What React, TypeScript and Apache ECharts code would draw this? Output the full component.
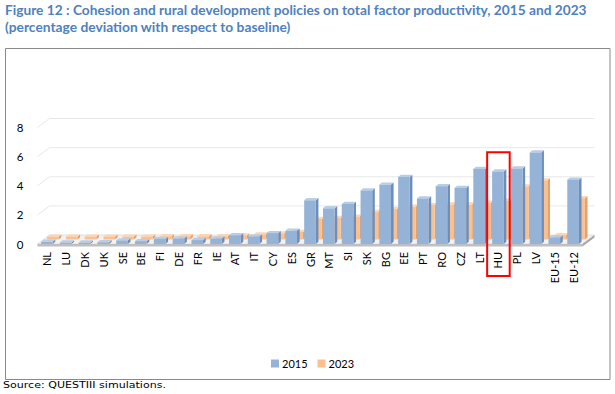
import React, { useEffect, useRef } from "react";
import * as echarts from "echarts";

const categories = ["NL", "LU", "DK", "UK", "SE", "BE", "FI", "DE", "FR", "IE", "AT", "IT", "CY", "ES", "GR", "MT", "SI", "SK", "BG", "EE", "PT", "RO", "CZ", "LT", "HU", "PL", "LV", "EU-15", "EU-12"];
const values2015 = [0.15, 0.1, 0.1, 0.12, 0.25, 0.2, 0.35, 0.38, 0.27, 0.38, 0.6, 0.52, 0.75, 0.92, 3.0, 2.45, 2.75, 3.68, 4.08, 4.6, 3.13, 3.97, 3.85, 5.15, 4.98, 5.18, 6.28, 0.45, 4.42];
const values2023 = [0.2, 0.2, 0.2, 0.2, 0.2, 0.2, 0.22, 0.22, 0.22, 0.22, 0.28, 0.35, 0.42, 0.52, 1.41, 1.48, 1.57, 1.9, 2.09, 2.25, 2.36, 2.4, 2.4, 2.52, 2.66, 3.65, 4.06, 0.3, 2.84];
const yTicks = [0, 2, 4, 6, 8];
const seriesNames = ["2015", "2023"];
const highlightCategory = "HU";
const titleLines = [
  "Figure 12 : Cohesion and rural development policies on total factor productivity, 2015 and 2023",
  "(percentage deviation with respect to baseline)",
];
const sourceText = "Source: QUESTIII simulations.";

const DEPTH_X = 12;
const DEPTH_Y = 9;

function measure(text: string, font: string): number {
  const c = document.createElement("canvas").getContext("2d");
  if (!c) return text.length * 6;
  c.font = font;
  return c.measureText(text).width;
}

function makeBarRender(offX: number, offY: number, front: string, side: string, topC: string) {
  return (params: any, api: any) => {
    const idx = api.value(0);
    const val = api.value(1);
    const top = api.coord([idx, val]);
    const base = api.coord([idx, 0]);
    const band = api.size([1, 0])[0];
    const w = band * 0.62;
    const x0 = top[0] - w / 2 + offX;
    const yT = top[1] + offY;
    const yB = base[1] + offY;
    const dx = 2.6;
    const dy = 2.2;
    return {
      type: "group",
      children: [
        {
          type: "polygon",
          shape: { points: [[x0 + w, yT], [x0 + w + dx, yT - dy], [x0 + w + dx, yB - dy], [x0 + w, yB]] },
          style: { fill: side },
        },
        {
          type: "polygon",
          shape: { points: [[x0, yT], [x0 + dx, yT - dy], [x0 + w + dx, yT - dy], [x0 + w, yT]] },
          style: { fill: topC },
        },
        {
          type: "rect",
          shape: { x: x0, y: yT, width: w, height: Math.max(0, yB - yT) },
          style: { fill: front },
        },
      ],
    };
  };
}

function wallRender(params: any, api: any) {
  const band = api.size([1, 0])[0];
  const first = api.coord([0, 0]);
  const last = api.coord([categories.length - 1, 0]);
  const xl = first[0] - band / 2;
  const xr = last[0] + band / 2;
  const y0 = first[1];
  const children: any[] = [];
  yTicks.forEach((t) => {
    if (t === 0) return;
    const y = api.coord([0, t])[1];
    children.push({
      type: "polyline",
      shape: { points: [[xl, y], [xl + DEPTH_X, y - DEPTH_Y], [xr + DEPTH_X, y - DEPTH_Y]] },
      style: { stroke: "#E8E8E8", lineWidth: 1, fill: null },
    });
  });
  children.push({
    type: "polygon",
    shape: { points: [[xl, y0], [xr, y0], [xr + DEPTH_X, y0 - DEPTH_Y], [xl + DEPTH_X, y0 - DEPTH_Y]] },
    style: { fill: "#F2F2F2", stroke: "#D0D0D0", lineWidth: 0.6 },
  });
  children.push({
    type: "rect",
    shape: { x: xl, y: y0, width: xr - xl, height: 2.5 },
    style: { fill: "#BFBFBF" },
  });
  children.push({
    type: "polygon",
    shape: { points: [[xr, y0], [xr + DEPTH_X, y0 - DEPTH_Y], [xr + DEPTH_X, y0 - DEPTH_Y + 2.5], [xr, y0 + 2.5]] },
    style: { fill: "#A6A6A6" },
  });
  return { type: "group", children };
}

export default function App() {
  const ref = useRef<HTMLDivElement>(null);
  useEffect(() => {
    document.body.style.margin = "0";
    if (!ref.current) return;
    const chart = echarts.init(ref.current, null, { renderer: "svg" });

    const titleFont = "bold 13px Lato";
    const t1w = measure(titleLines[0], titleFont);
    const t2w = measure(titleLines[1], titleFont);
    const srcFont = "9px 'DejaVu Sans'";
    const sw = measure(sourceText, srcFont);

    const option: any = {
      animation: false,
      textStyle: { fontFamily: "Lato" },
      grid: { left: 37.5, right: 32.5, top: 127.5, bottom: 150, containLabel: false },
      legend: {
        data: seriesNames,
        left: 266,
        top: 353,
        icon: "rect",
        itemWidth: 8,
        itemHeight: 8,
        itemGap: 10,
        textStyle: { fontSize: 11, color: "#000", fontFamily: "Lato", padding: [0, 0, 0, -2] },
      },
      xAxis: {
        type: "category",
        data: categories,
        boundaryGap: true,
        axisLine: { show: false },
        axisTick: { show: false },
        axisLabel: { rotate: 90, interval: 0, margin: 8, fontSize: 11, color: "#000", fontFamily: "Lato" },
      },
      yAxis: {
        type: "value",
        min: 0,
        max: 8,
        interval: 2,
        axisLine: { show: false },
        axisTick: { show: false },
        splitLine: { show: false },
        axisLabel: { margin: 14, fontSize: 11.5, color: "#000", fontFamily: "Lato" },
      },
      series: [
        {
          type: "custom",
          name: "wall",
          silent: true,
          z: 1,
          renderItem: wallRender,
          data: [[0, 0]],
          encode: { x: 0, y: 1 },
        },
        {
          type: "custom",
          name: seriesNames[1],
          z: 2,
          itemStyle: { color: "#FAC090" },
          renderItem: makeBarRender(6, -4.5, "#FAC090", "#E3A26C", "#FCD5B4"),
          data: values2023.map((v, i) => [i, v]),
          encode: { x: 0, y: 1 },
        },
        {
          type: "custom",
          name: seriesNames[0],
          z: 3,
          itemStyle: { color: "#95B3D7" },
          renderItem: makeBarRender(0, 0, "#95B3D7", "#6D8EBB", "#B9CDE5"),
          data: values2015.map((v, i) => [i, v]),
          encode: { x: 0, y: 1 },
        },
      ],
      graphic: [
        {
          type: "rect",
          shape: { x: 5.5, y: 48.5, width: 604.5, height: 331 },
          style: { fill: "none", stroke: "#898989", lineWidth: 1 },
          z: -1,
        },
        {
          type: "text",
          x: 5,
          y: 4,
          scaleX: 582 / t1w,
          style: { text: titleLines[0], font: titleFont, fill: "#4F81BD", textVerticalAlign: "top" },
        },
        {
          type: "text",
          x: 5,
          y: 21,
          scaleX: (582 / t1w + 288 / t2w) / 2,
          style: { text: titleLines[1], font: titleFont, fill: "#4F81BD", textVerticalAlign: "top" },
        },
        {
          type: "text",
          x: 3,
          y: 380,
          scaleX: 163 / sw,
          style: { text: sourceText, font: srcFont, fill: "#000", textVerticalAlign: "top" },
        },
      ],
    };
    chart.setOption(option);

    // highlight box around the chosen category, placed through the axis scale
    const hi = categories.indexOf(highlightCategory);
    const topPt = chart.convertToPixel({ gridIndex: 0 }, [hi, 6.3]) as number[];
    const basePt = chart.convertToPixel({ gridIndex: 0 }, [hi, 0]) as number[];
    const band = (chart.convertToPixel({ gridIndex: 0 }, [hi + 1, 0]) as number[])[0] - basePt[0];
    const boxW = band * 1.2;
    chart.setOption({
      graphic: [
        {
          id: "hu-box",
          type: "rect",
          shape: { x: basePt[0] - boxW / 2 + 0.5, y: topPt[1], width: boxW, height: basePt[1] + 32 - topPt[1] },
          style: { fill: "none", stroke: "#FF0000", lineWidth: 2 },
          z: 10,
        },
      ],
    });
    return () => chart.dispose();
  }, []);
  return <div ref={ref} style={{ width: 615, height: 394 }} />;
}
